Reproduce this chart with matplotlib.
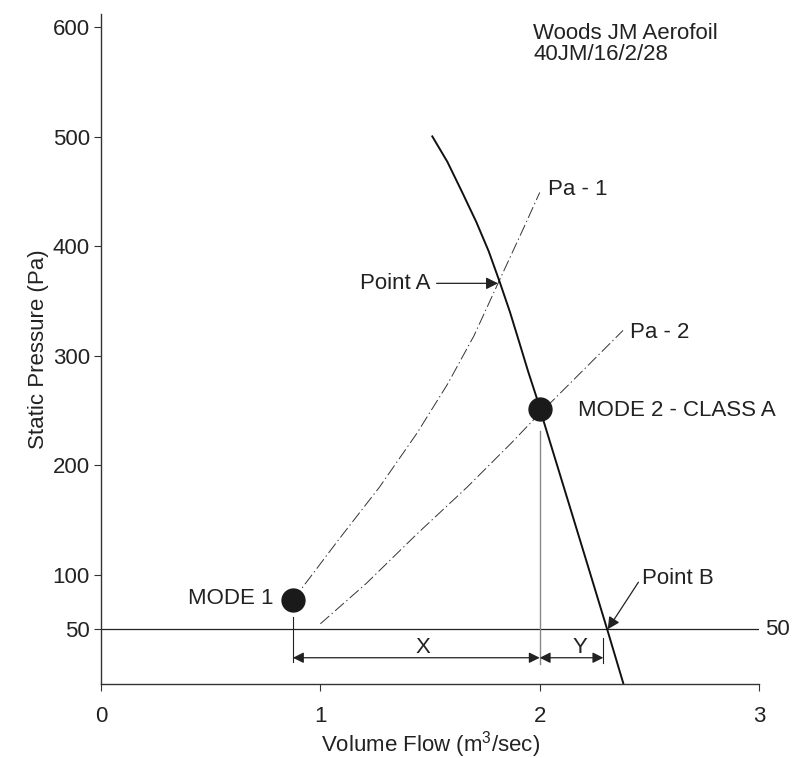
import matplotlib
matplotlib.use("Agg")
import matplotlib.pyplot as plt

plt.rcParams['font.family'] = ['Liberation Sans', 'DejaVu Sans']
plt.rcParams['mathtext.default'] = 'regular'
plt.rcParams['lines.scale_dashes'] = False

# ---- data ----
fan_x = [1.508, 1.579, 1.647, 1.711, 1.768, 1.818, 1.864, 1.907, 1.948, 1.987,
         2.021, 2.128, 2.221, 2.309, 2.382]
fan_y = [501, 477, 449, 422, 395, 367, 340, 312, 285, 261,
         238, 168, 107, 49, 0]

pa1_x = [0.875, 0.91, 1.08, 1.27, 1.44, 1.58, 1.70, 1.81, 1.93, 2.00]
pa1_y = [77, 86, 131, 180, 229, 274, 318, 366, 418, 449]

pa2_x = [1.00, 1.21, 1.44, 1.67, 1.87, 1.97, 2.06, 2.23, 2.38]
pa2_y = [55, 92, 137, 180, 220, 241, 259, 293, 323]

mode1 = (0.875, 77)
mode2 = (2.00, 251)
point_a = (1.81, 366)
point_b = (2.31, 50)
y_end_x = 2.29
ref_level = 50

x_ticks = [0, 1, 2, 3]
y_ticks = [50, 100, 200, 300, 400, 500, 600]

TXT = '#222222'
FS = 16

fig = plt.figure(figsize=(7.93, 7.58), dpi=100)
ax = fig.add_axes([0.1274, 0.0976, 0.8298, 0.8839])
ax.set_xlim(0, 3)
ax.set_ylim(0, 612)

for s in ['top', 'right']:
    ax.spines[s].set_visible(False)
for s in ['left', 'bottom']:
    ax.spines[s].set_linewidth(1.0)
    ax.spines[s].set_color('#333333')

ax.set_xticks(x_ticks)
ax.set_yticks(y_ticks)
ax.tick_params(axis='x', length=5, width=0.8, pad=11, labelsize=FS, colors='#333333', labelcolor=TXT)
ax.tick_params(axis='y', length=5, width=0.8, pad=3, labelsize=FS, colors='#333333', labelcolor=TXT)

ax.set_xlabel('Volume Flow (m$^3$/sec)', fontsize=FS, color=TXT, labelpad=1)
ax.set_ylabel('Static Pressure (Pa)', fontsize=FS, color=TXT, labelpad=3)

# reference line at 50 Pa
ax.plot([0, 3], [ref_level, ref_level], color='#222222', lw=0.9)
ax.text(3.028, ref_level, '50', fontsize=FS, color=TXT, va='center', ha='left')

# system curves (dash-dot)
dd = (0, (8.5, 2.3, 1.0, 2.3))
ax.plot(pa1_x, pa1_y, color='#333333', lw=0.7, linestyle=dd)
ax.plot(pa2_x, pa2_y, color='#333333', lw=0.7, linestyle=dd)

# fan curve
ax.plot(fan_x, fan_y, color='#111111', lw=1.4, solid_capstyle='butt',
        solid_joinstyle='round')

# vertical guide lines
ax.plot([mode2[0], mode2[0]], [18, mode2[1] - 20], color='#888888', lw=1.0)
ax.plot([mode1[0], mode1[0]], [20, 61], color='#222222', lw=0.8)
ax.plot([y_end_x, y_end_x], [19, 42], color='#222222', lw=0.8)

# mode points
ax.plot(*mode1, 'o', color='#1a1a1a', markersize=16.5, zorder=5)
ax.plot(*mode2, 'o', color='#1a1a1a', markersize=16.5, zorder=5)

ap = dict(arrowstyle='<|-|>', color='#222222', lw=0.9, mutation_scale=16,
          shrinkA=0, shrinkB=0)
ax.annotate('', xy=(mode1[0], 24), xytext=(mode2[0], 24), arrowprops=ap)
ax.annotate('', xy=(mode2[0], 24), xytext=(y_end_x, 24), arrowprops=ap)
ax.text(1.468, 33.5, 'X', fontsize=FS, color=TXT, ha='center', va='center')
ax.text(2.184, 33.5, 'Y', fontsize=FS, color=TXT, ha='center', va='center')

ap1 = dict(arrowstyle='-|>', color='#222222', lw=0.9, mutation_scale=18,
           shrinkA=0, shrinkB=0)
ax.annotate('', xy=point_a, xytext=(1.53, point_a[1]), arrowprops=ap1)
ax.text(1.50, point_a[1], 'Point A', fontsize=FS, color=TXT, ha='right', va='center')

ax.annotate('', xy=point_b, xytext=(2.45, 93), arrowprops=ap1)
ax.text(2.467, 96.6, 'Point B', fontsize=FS, color=TXT, ha='left', va='center')

ax.text(2.175, 250, 'MODE 2 - CLASS A', fontsize=FS, color=TXT, ha='left', va='center')
ax.text(0.785, 78, 'MODE 1', fontsize=FS, color=TXT, ha='right', va='center')
ax.text(2.037, 452, 'Pa - 1', fontsize=FS, color=TXT, ha='left', va='center')
ax.text(2.412, 321, 'Pa - 2', fontsize=FS, color=TXT, ha='left', va='center')
ax.text(1.97, 604, 'Woods JM Aerofoil\n40JM/16/2/28', fontsize=FS, color=TXT,
        ha='left', va='top', linespacing=1.0)

fig.savefig('out.png', dpi=100)
